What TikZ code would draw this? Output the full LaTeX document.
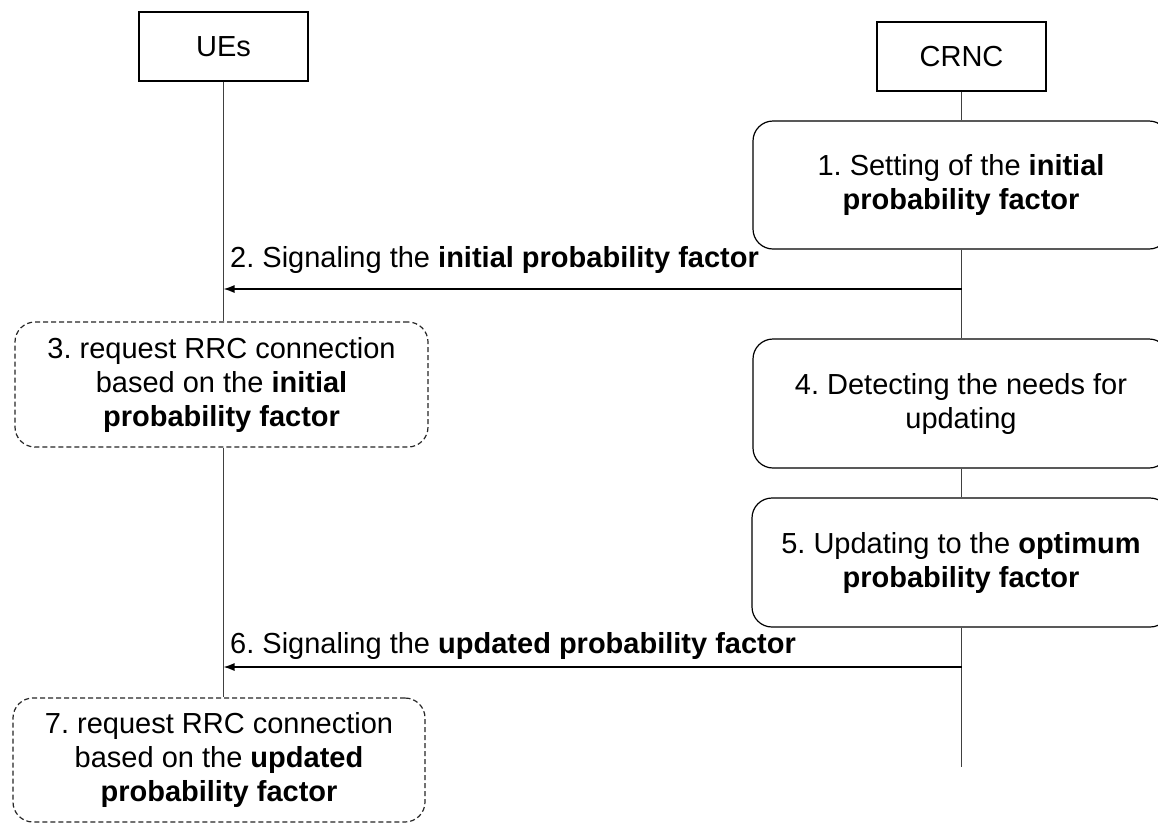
\documentclass[tikz,border=0pt]{standalone}
\usepackage{fontspec}
\setmainfont{Liberation Sans}
\usetikzlibrary{arrows.meta}
\frenchspacing
\begin{document}
\begin{tikzpicture}[x=1pt,y=-1pt,
  every node/.style={font=\fontsize{29}{34}\selectfont, inner sep=0pt},
  actor/.style={draw=black, line width=1.2pt, minimum width=169pt, minimum height=69pt},
  stepbox/.style={draw=black, line width=1.2pt, rounded corners=20pt, align=center},
  dashbox/.style={stepbox, draw=black!85, dash pattern=on 5pt off 3pt},
  life/.style={draw=black!75, line width=1.8pt},
  msg/.style={draw=black, line width=1.4pt, -{Latex[length=11pt,width=8pt]}},
  lbl/.style={anchor=base west}]
\useasboundingbox (0,0) rectangle (1158,823);
\clip (0,0) rectangle (1158,823);
\fill[white] (0,0) rectangle (1158,823);

% actors
\node[actor] (ues) at (223.5,46.5) {UEs};
\node[actor] (crnc) at (961.5,56.5) {CRNC};

% step boxes
\node[stepbox, minimum width=416pt, minimum height=128pt] (b1) at (961,185)
  {1. Setting of the \textbf{initial}\\\textbf{probability factor}};
\node[dashbox, minimum width=413pt, minimum height=125pt] (b3) at (221.5,384.5)
  {3. request RRC connection\\based on the \textbf{initial}\\\textbf{probability factor}};
\node[stepbox, minimum width=416pt, minimum height=129pt] (b4) at (961,403.5)
  {4. Detecting the needs for\\updating};
\node[stepbox, minimum width=418pt, minimum height=129pt] (b5) at (961,562.5)
  {5. Updating to the \textbf{optimum}\\\textbf{probability factor}};
\node[dashbox, minimum width=412pt, minimum height=124pt] (b7) at (219,760)
  {7. request RRC connection\\based on the \textbf{updated}\\\textbf{probability factor}};

% lifelines
\coordinate (crncEnd) at (961.5,767);
\draw[life] (ues.south) -- (ues.south |- b3.north);
\draw[life] (ues.south |- b3.south) -- (ues.south |- b7.north);
\draw[life] (crnc.south) -- (crnc.south |- b1.north);
\draw[life] (crnc.south |- b1.south) -- (crnc.south |- b4.north);
\draw[life] (crnc.south |- b4.south) -- (crnc.south |- b5.north);
\draw[life] (crnc.south |- b5.south) -- (crncEnd);

% messages
\coordinate (a2s) at (961.5,289);
\coordinate (a2e) at (ues.south |- a2s);
\draw[msg] (a2s) -- (a2e);
\node[lbl] (l2) at (230,267) {2. Signaling the \textbf{initial probability factor}};

\coordinate (a6s) at (961.5,667);
\coordinate (a6e) at (ues.south |- a6s);
\draw[msg] (a6s) -- (a6e);
\node[lbl] (l6) at (230,653) {6. Signaling the \textbf{updated probability factor}};
\end{tikzpicture}
\end{document}
